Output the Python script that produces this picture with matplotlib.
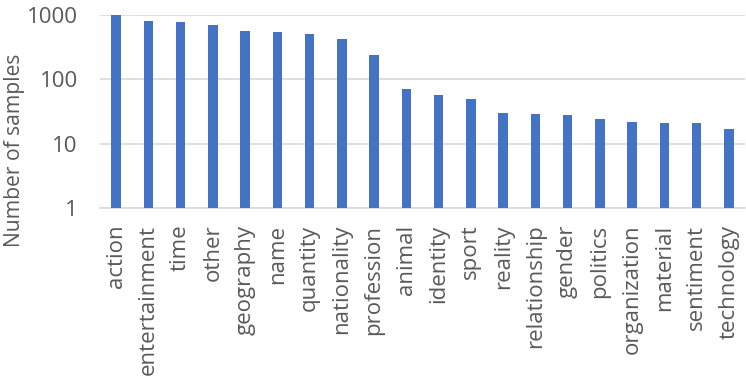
import matplotlib.pyplot as plt
import numpy as np

categories = ["action", "entertainment", "time", "other", "geography", "name",
              "quantity", "nationality", "profession", "animal", "identity",
              "sport", "reality", "relationship", "gender", "politics",
              "organization", "material", "sentiment", "technology"]
samples = [1020, 798, 770, 702, 557, 551, 507, 425, 239, 72, 57, 49, 30, 29,
           28, 24, 22, 21, 21, 17]
y_ticks = [1, 10, 100, 1000]

plt.rcParams["font.family"] = ["Open Sans", "DejaVu Sans"]
text_color = "#595959"

fig = plt.figure(figsize=(7.46, 3.84), dpi=100)
ax = fig.add_axes([100 / 746, 1 - 208 / 384, 645 / 746, 193 / 384])

x = np.arange(len(categories))
ax.bar(x, samples, width=0.3, color="#4472C4", zorder=3)
ax.set_yscale("log")
ax.set_ylim(1, 1000)
ax.set_xlim(-0.5, len(categories) - 0.5)

ax.set_yticks(y_ticks)
ax.set_yticklabels([str(t) for t in y_ticks])
ax.yaxis.set_minor_locator(plt.NullLocator())
ax.grid(axis="y", color="#D9D9D9", linewidth=1.2, zorder=0)

ax.set_xticks(x)
ax.set_xticklabels(categories, rotation=90, va="top", ha="center")

for s in ["top", "right", "left"]:
    ax.spines[s].set_visible(False)
ax.spines["bottom"].set_color("#D9D9D9")
ax.spines["bottom"].set_linewidth(1.2)

ax.tick_params(axis="both", length=0, labelsize=16, colors=text_color)
ax.tick_params(axis="x", pad=12)
ax.tick_params(axis="y", pad=16)

fig.text(0.02, 1 - 150 / 384, "Number of samples", rotation=90,
         ha="center", va="center", fontsize=15.2, color=text_color)

fig.savefig("out.png", dpi=100)
